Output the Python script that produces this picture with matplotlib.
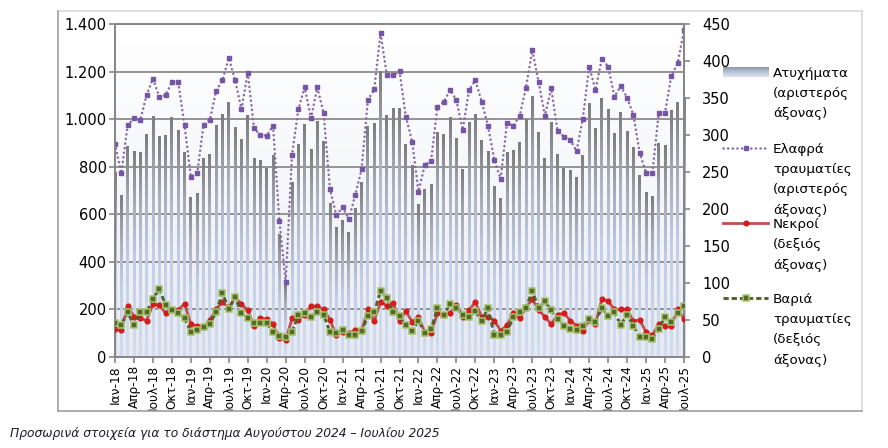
import numpy as np
import matplotlib
matplotlib.use('Agg')
import matplotlib.pyplot as plt
from matplotlib.colors import LinearSegmentedColormap
from matplotlib.lines import Line2D
from matplotlib.ticker import FuncFormatter, MultipleLocator, FixedLocator

plt.rcParams['font.family'] = ['DejaVu Sans']

month_names = ['Ιαν', 'Φεβ', 'Μαρ', 'Απρ', 'Μαϊ', 'Ιουν', 'Ιουλ', 'Αυγ', 'Σεπ', 'Οκτ', 'Νοε', 'Δεκ']
years = ['18', '19', '20', '21', '22', '23', '24', '25']
labels = [f'{m}-{y}' for y in years for m in month_names][:91]

accidents = [779, 681, 889, 868, 864, 937, 1014, 930, 932, 1008, 953, 862,
             674, 691, 837, 854, 976, 1021, 1071, 967, 915, 1018, 835, 827,
             796, 850, 515, 310, 737, 896, 980, 876, 994, 910, 649, 548,
             576, 525, 625, 737, 973, 983, 1203, 1018, 1049, 1046, 896, 807,
             642, 706, 729, 945, 938, 1008, 923, 792, 990, 1024, 913, 866,
             719, 667, 862, 872, 906, 1001, 1098, 945, 837, 989, 854, 793,
             786, 758, 848, 1067, 962, 1090, 1043, 944, 1032, 952, 885, 764,
             695, 678, 899, 893, 1038, 1074, 1092]

light_injuries = [896, 772, 976, 1004, 997, 1102, 1171, 1095, 1101, 1157, 1156, 974,
                  758, 772, 976, 997, 1119, 1165, 1258, 1165, 1042, 1196, 962, 934,
                  931, 973, 573, 316, 850, 1042, 1135, 1004, 1135, 1025, 706, 597,
                  629, 580, 681, 789, 1081, 1126, 1362, 1187, 1185, 1203, 1011, 906,
                  695, 807, 826, 1053, 1073, 1123, 1081, 955, 1123, 1164, 1074, 972,
                  828, 748, 986, 972, 1014, 1133, 1292, 1158, 1015, 1130, 951, 927,
                  913, 866, 1003, 1222, 1123, 1255, 1222, 1095, 1140, 1091, 1018, 857,
                  775, 775, 1025, 1028, 1184, 1236, 1376]

deaths = [38, 36, 69, 54, 52, 49, 71, 70, 59, 63, 63, 72,
          44, 41, 40, 50, 64, 74, 66, 81, 71, 63, 42, 52,
          51, 44, 25, 22, 52, 50, 57, 68, 68, 64, 50, 29,
          34, 32, 36, 35, 64, 48, 74, 69, 73, 48, 62, 47,
          54, 33, 32, 59, 56, 59, 70, 54, 63, 74, 54, 54,
          49, 35, 43, 59, 52, 66, 78, 63, 54, 44, 57, 59,
          49, 42, 35, 50, 44, 78, 75, 64, 64, 64, 48, 50,
          33, 29, 44, 42, 41, 65, 51]

serious_injuries = [46, 43, 60, 43, 60, 60, 78, 92, 70, 63, 59, 52,
                    34, 36, 40, 44, 61, 86, 64, 81, 59, 53, 46, 46,
                    46, 33, 28, 27, 34, 56, 59, 54, 60, 57, 33, 32,
                    36, 29, 29, 35, 55, 60, 89, 80, 60, 55, 43, 35,
                    49, 32, 37, 66, 56, 72, 66, 57, 54, 62, 48, 66,
                    29, 30, 33, 54, 60, 66, 89, 66, 75, 63, 51, 42,
                    38, 36, 42, 51, 47, 66, 55, 60, 43, 57, 42, 27,
                    26, 24, 38, 54, 47, 59, 68]

legend_lines = [
    ['Ατυχήματα', '(αριστερός', 'άξονας)'],
    ['Ελαφρά', 'τραυματίες', '(αριστερός', 'άξονας)'],
    ['Νεκροί', '(δεξιός', 'άξονας)'],
    ['Βαριά', 'τραυματίες', '(δεξιός', 'άξονας)'],
]
footnote = 'Προσωρινά στοιχεία για το διάστημα Αυγούστου 2024 – Ιουλίου 2025'

W, H = 888, 448
fig = plt.figure(figsize=(W / 100, H / 100), dpi=100)

def fx(px):
    return px / W

def fy(py):
    return 1 - py / H

ax = fig.add_axes([fx(115), fy(356.7), fx(684) - fx(115), fy(24.3) - fy(356.7)])
ax2 = ax.twinx()

x = np.arange(len(accidents))

PURPLE_LS = (0, (0.05, 1.8))
GREEN_LS = (0, (1.8, 1.0))

# background subtle gradient
bg = LinearSegmentedColormap.from_list('bg', ['#e6e9f1', '#f6f7fa', '#ffffff'])
ax.imshow(np.linspace(0, 1, 256).reshape(-1, 1), extent=[0, 1, 0, 1], origin='lower',
          transform=ax.transAxes, cmap=bg, aspect='auto', zorder=0, interpolation='bilinear')

# bars with vertical gradient
bar_cmap = LinearSegmentedColormap.from_list(
    'barg', [(0.0, '#d3ddef'), (0.45, '#c2cee6'), (0.72, '#a8aebb'), (1.0, '#7c7c7c')])
bars = ax.bar(x, accidents, width=0.45, color='#c6d3ea', linewidth=0, zorder=2)
grad = np.linspace(0, 1, 256).reshape(-1, 1)
for b in bars:
    im = ax.imshow(grad, extent=[b.get_x(), b.get_x() + b.get_width(), 0, b.get_height()],
                   origin='lower', cmap=bar_cmap, aspect='auto', zorder=2.1,
                   interpolation='bilinear')
    im.set_clip_path(b)

# light injuries (left axis)
ax.plot(x, light_injuries, color='#8468a8', linestyle=PURPLE_LS, lw=1.8,
        dash_capstyle='round', marker='s', markersize=3.2, markerfacecolor='#7656a4',
        markeredgecolor='#7656a4', zorder=5)

# gridlines
ax.set_axisbelow(True)
ax.yaxis.grid(True, color='#8c8c8c', lw=1.3, zorder=1)

ax.set_xlim(0, 90)
ax.set_ylim(0, 1400)
ax.yaxis.set_major_locator(MultipleLocator(200))
ax.yaxis.set_major_formatter(FuncFormatter(lambda v, p: f'{int(v):,}'.replace(',', '.')))
ax.xaxis.set_major_locator(FixedLocator(x[::3]))
ax.set_xticklabels(labels[::3], rotation=90, fontsize=8.7)

# right axis lines
ax2.plot(x, deaths, color='#c0504d', lw=2.0, marker='o', markersize=3.4,
         markerfacecolor='#d41c1c', markeredgecolor='#d41c1c', zorder=3)
ax2.plot(x, serious_injuries, color='#4f6228', lw=2.1, linestyle=GREEN_LS,
         marker='s', markersize=4.2, markerfacecolor='#56692c', markeredgecolor='#a6c46a',
         markeredgewidth=1.1, zorder=4)
ax2.set_ylim(0, 450)
ax2.yaxis.set_major_locator(MultipleLocator(50))
ax2.set_xlim(0, 90)

for a in (ax, ax2):
    for s in a.spines.values():
        s.set_color('#868686')
        s.set_linewidth(1.3)
ax.tick_params(axis='y', length=4, width=1.2, color='#868686', labelsize=10.5, pad=2)
ax.tick_params(axis='x', length=4, width=1.2, color='#868686', pad=2)
ax2.tick_params(axis='y', length=4, width=1.2, color='#868686', labelsize=10.5, pad=9)

# frame around the chart
fig.add_artist(Line2D([fx(58), fx(862)], [fy(11), fy(11)], transform=fig.transFigure, color='#d9d9d9', lw=1.2))
fig.add_artist(Line2D([fx(862), fx(862)], [fy(11), fy(411)], transform=fig.transFigure, color='#d9d9d9', lw=1.2))
fig.add_artist(Line2D([fx(58), fx(862)], [fy(411), fy(411)], transform=fig.transFigure, color='#a0a0a0', lw=1.2))
fig.add_artist(Line2D([fx(58), fx(58)], [fy(11), fy(411)], transform=fig.transFigure, color='#a0a0a0', lw=1.2))

# legend
sw_x0, sw_x1 = 723, 768
lax = fig.add_axes([fx(sw_x0), fy(77), fx(sw_x1) - fx(sw_x0), fy(67) - fy(77)])
lax.imshow(np.linspace(0, 1, 64).reshape(-1, 1), origin='lower', aspect='auto',
           cmap=LinearSegmentedColormap.from_list('lg', ['#dbe3f1', '#b9c4d8', '#8e98aa']),
           extent=[0, 1, 0, 1])
lax.axis('off')

ly = 148
fig.add_artist(Line2D([fx(sw_x0), fx(sw_x1)], [fy(ly), fy(ly)], transform=fig.transFigure,
                      color='#8468a8', lw=1.8, linestyle=PURPLE_LS, dash_capstyle='round'))
fig.add_artist(Line2D([fx((sw_x0 + sw_x1) / 2)], [fy(ly)], transform=fig.transFigure,
                      marker='s', markersize=3.2, color='#7656a4', lw=0))
ly = 223
fig.add_artist(Line2D([fx(sw_x0), fx(sw_x1)], [fy(ly), fy(ly)], transform=fig.transFigure,
                      color='#c0504d', lw=2.0))
fig.add_artist(Line2D([fx((sw_x0 + sw_x1) / 2)], [fy(ly)], transform=fig.transFigure,
                      marker='o', markersize=3.4, color='#d41c1c', lw=0))
ly = 298
fig.add_artist(Line2D([fx(sw_x0), fx(sw_x1)], [fy(ly), fy(ly)], transform=fig.transFigure,
                      color='#4f6228', lw=2.1, linestyle=GREEN_LS))
fig.add_artist(Line2D([fx((sw_x0 + sw_x1) / 2)], [fy(ly)], transform=fig.transFigure,
                      marker='s', markersize=4.2, markerfacecolor='#56692c',
                      markeredgecolor='#a6c46a', markeredgewidth=1.1, lw=0))

block_starts = [73, 149, 224, 299]
for start, lines in zip(block_starts, legend_lines):
    for k, t in enumerate(lines):
        fig.text(fx(773), fy(start + 20.5 * k), t, fontsize=9.7, va='center', ha='left', color='#000000')

fig.text(fx(10), fy(433), footnote, fontsize=8.8, style='italic', va='center', ha='left', color='#1a1a2a')

fig.savefig('out.png', dpi=100)
